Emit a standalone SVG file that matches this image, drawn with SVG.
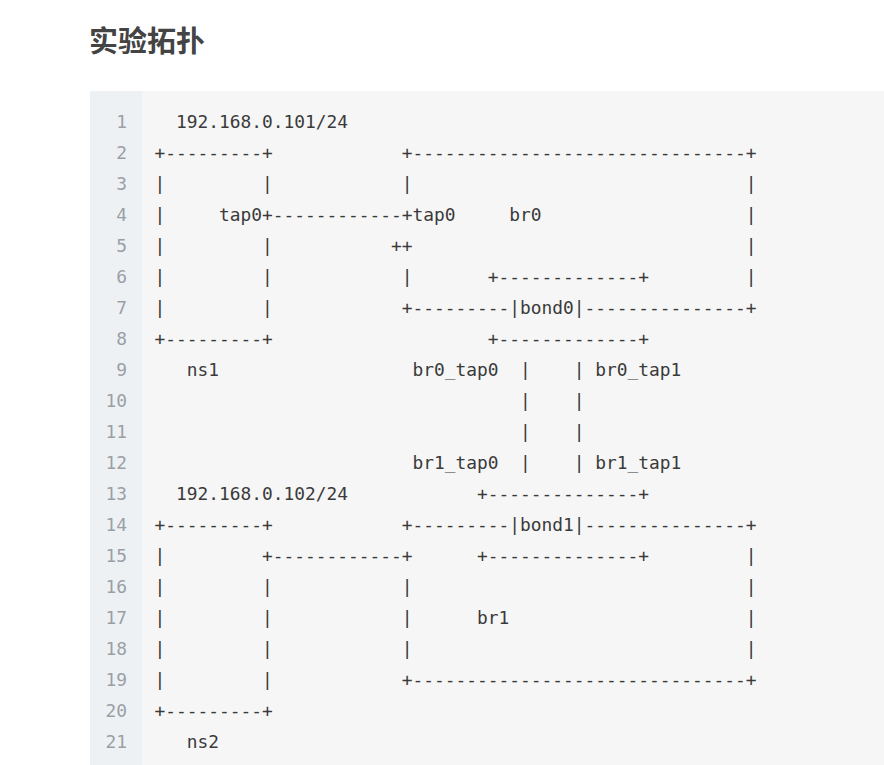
<svg xmlns="http://www.w3.org/2000/svg" width="884" height="765" viewBox="0 0 884 765">
<style>
.t{font-family:"DejaVu Sans Mono","Liberation Mono",monospace;font-size:17.86px;fill:#3a3a3a;white-space:pre}
.n{font-family:"DejaVu Sans Mono","Liberation Mono",monospace;font-size:17.86px;fill:#9a9fa6;text-anchor:end}
.h{font-family:"Noto Sans CJK SC","Noto Sans",sans-serif;font-size:29px;font-weight:bold;fill:#444}
</style>
<rect x="0" y="0" width="884" height="765" fill="#ffffff"/>
<text class="h" x="89" y="52">实验拓扑</text>
<g id="codeblock">
<rect x="90" y="91" width="794" height="674" fill="#f6f6f6"/>
<rect x="90" y="91" width="52" height="674" fill="#eef1f3"/>
</g>
<g id="linenumbers">
<text class="n" x="127" y="128">1</text>
<text class="n" x="127" y="159">2</text>
<text class="n" x="127" y="190">3</text>
<text class="n" x="127" y="221">4</text>
<text class="n" x="127" y="252">5</text>
<text class="n" x="127" y="283">6</text>
<text class="n" x="127" y="314">7</text>
<text class="n" x="127" y="345">8</text>
<text class="n" x="127" y="376">9</text>
<text class="n" x="127" y="407">10</text>
<text class="n" x="127" y="438">11</text>
<text class="n" x="127" y="469">12</text>
<text class="n" x="127" y="500">13</text>
<text class="n" x="127" y="531">14</text>
<text class="n" x="127" y="562">15</text>
<text class="n" x="127" y="593">16</text>
<text class="n" x="127" y="624">17</text>
<text class="n" x="127" y="655">18</text>
<text class="n" x="127" y="686">19</text>
<text class="n" x="127" y="717">20</text>
<text class="n" x="127" y="748">21</text>
</g>
<g id="ns1">
<text class="t" x="176" y="128">192.168.0.101/24</text>
<text class="t" x="154.5" y="159">+---------+</text>
<text class="t" x="154.5" y="190">|</text><text class="t" x="262" y="190">|</text>
<text class="t" x="154.5" y="221">|</text>
<text class="t" x="154.5" y="252">|</text><text class="t" x="262" y="252">|</text>
<text class="t" x="154.5" y="283">|</text><text class="t" x="262" y="283">|</text>
<text class="t" x="154.5" y="314">|</text><text class="t" x="262" y="314">|</text>
<text class="t" x="154.5" y="345">+---------+</text>
<text class="t" x="186.75" y="376">ns1</text>
</g>
<g id="br0">
<text class="t" x="401.75" y="159">+-------------------------------+</text>
<text class="t" x="401.75" y="190">|</text><text class="t" x="745.75" y="190">|</text>
<text class="t" x="509.25" y="221">br0</text><text class="t" x="745.75" y="221">|</text>
<text class="t" x="391" y="252">++</text><text class="t" x="745.75" y="252">|</text>
<text class="t" x="401.75" y="283">|</text><text class="t" x="745.75" y="283">|</text>
<text class="t" x="401.75" y="314">+---------</text><text class="t" x="584.5" y="314">---------------+</text>
</g>
<g id="bond0">
<text class="t" x="487.75" y="283">+-------------+</text>
<text class="t" x="509.25" y="314">|bond0|</text>
<text class="t" x="487.75" y="345">+-------------+</text>
</g>
<g id="connectors">
<text class="t" x="219" y="221">tap0+------------+tap0</text>
<text class="t" x="412.5" y="376">br0_tap0</text>
<text class="t" x="520" y="376">|</text>
<text class="t" x="573.75" y="376">| br0_tap1</text>
<text class="t" x="520" y="407">|</text><text class="t" x="573.75" y="407">|</text>
<text class="t" x="520" y="438">|</text><text class="t" x="573.75" y="438">|</text>
<text class="t" x="412.5" y="469">br1_tap0</text>
<text class="t" x="520" y="469">|</text>
<text class="t" x="573.75" y="469">| br1_tap1</text>
<text class="t" x="262" y="562">+------------+</text>
</g>
<g id="bond1">
<text class="t" x="477" y="500">+--------------+</text>
<text class="t" x="509.25" y="531">|bond1|</text>
<text class="t" x="477" y="562">+--------------+</text>
</g>
<g id="ns2">
<text class="t" x="176" y="500">192.168.0.102/24</text>
<text class="t" x="154.5" y="531">+---------+</text>
<text class="t" x="154.5" y="562">|</text>
<text class="t" x="154.5" y="593">|</text><text class="t" x="262" y="593">|</text>
<text class="t" x="154.5" y="624">|</text><text class="t" x="262" y="624">|</text>
<text class="t" x="154.5" y="655">|</text><text class="t" x="262" y="655">|</text>
<text class="t" x="154.5" y="686">|</text><text class="t" x="262" y="686">|</text>
<text class="t" x="154.5" y="717">+---------+</text>
<text class="t" x="186.75" y="748">ns2</text>
</g>
<g id="br1">
<text class="t" x="401.75" y="531">+---------</text><text class="t" x="584.5" y="531">---------------+</text>
<text class="t" x="745.75" y="562">|</text>
<text class="t" x="401.75" y="593">|</text><text class="t" x="745.75" y="593">|</text>
<text class="t" x="401.75" y="624">|</text><text class="t" x="477" y="624">br1</text><text class="t" x="745.75" y="624">|</text>
<text class="t" x="401.75" y="655">|</text><text class="t" x="745.75" y="655">|</text>
<text class="t" x="401.75" y="686">+-------------------------------+</text>
</g>
</svg>
